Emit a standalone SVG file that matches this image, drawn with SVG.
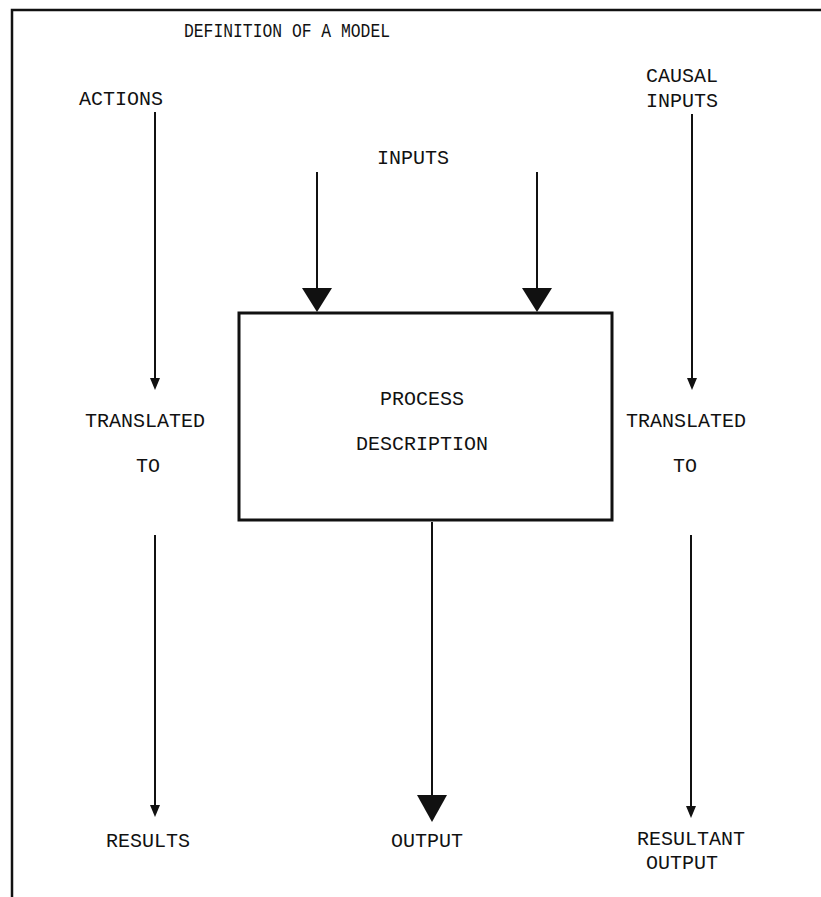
<svg xmlns="http://www.w3.org/2000/svg" width="821" height="897" viewBox="0 0 821 897">
  <style>
    .lbl { font-family: "Liberation Mono", "DejaVu Sans Mono", monospace; font-size: 20px; fill: #111; text-anchor: middle; }
    .ln { stroke: #111; stroke-width: 2; fill: none; }
    .frame { stroke: #111; stroke-width: 2.5; fill: none; }
    .box { stroke: #111; stroke-width: 3; fill: #fff; }
    .head { fill: #111; }
  </style>

  <!-- page frame: top rule and left rule -->
  <path class="frame" d="M12,897 L12,10 L821,10"/>

  <!-- title, set a little tighter than the labels -->
  <text class="lbl" x="287" y="37" textLength="206" lengthAdjust="spacingAndGlyphs">DEFINITION OF A MODEL</text>

  <g id="actions">
    <text class="lbl" x="121" y="105">ACTIONS</text>
  </g>
  <g id="causal-inputs">
    <text class="lbl" x="682" y="82">CAUSAL</text>
    <text class="lbl" x="682" y="107">INPUTS</text>
  </g>
  <g id="inputs">
    <text class="lbl" x="413" y="164">INPUTS</text>
  </g>
  <g id="process">
    <rect class="box" x="239" y="313" width="373" height="207"/>
    <text class="lbl" x="422" y="405">PROCESS</text>
    <text class="lbl" x="422" y="450">DESCRIPTION</text>
  </g>
  <g id="translated-left">
    <text class="lbl" x="145" y="427">TRANSLATED</text>
    <text class="lbl" x="148" y="472">TO</text>
  </g>
  <g id="translated-right">
    <text class="lbl" x="686" y="427">TRANSLATED</text>
    <text class="lbl" x="685" y="472">TO</text>
  </g>
  <g id="results">
    <text class="lbl" x="148" y="847">RESULTS</text>
  </g>
  <g id="output">
    <text class="lbl" x="427" y="847">OUTPUT</text>
  </g>
  <g id="resultant-output">
    <text class="lbl" x="691" y="845">RESULTANT</text>
    <text class="lbl" x="682" y="869">OUTPUT</text>
  </g>

  <g id="connectors">
    <!-- left column -->
    <line class="ln" x1="155" y1="112" x2="155" y2="378"/>
    <path class="head" d="M150,378 L160,378 L155,390 Z"/>
    <line class="ln" x1="155" y1="535" x2="155" y2="805"/>
    <path class="head" d="M150,805 L160,805 L155,817 Z"/>
    <!-- right column -->
    <line class="ln" x1="692" y1="114" x2="692" y2="378"/>
    <path class="head" d="M687,378 L697,378 L692,390 Z"/>
    <line class="ln" x1="691" y1="535" x2="691" y2="806"/>
    <path class="head" d="M686,806 L696,806 L691,818 Z"/>
    <!-- inputs into the process box -->
    <line class="ln" x1="317" y1="172" x2="317" y2="290"/>
    <path class="head" d="M302,288 L332,288 L317,312 Z"/>
    <line class="ln" x1="537" y1="172" x2="537" y2="290"/>
    <path class="head" d="M522,288 L552,288 L537,312 Z"/>
    <!-- process output -->
    <line class="ln" x1="432" y1="522" x2="432" y2="797"/>
    <path class="head" d="M417,795 L447,795 L432,822 Z"/>
  </g>
</svg>
